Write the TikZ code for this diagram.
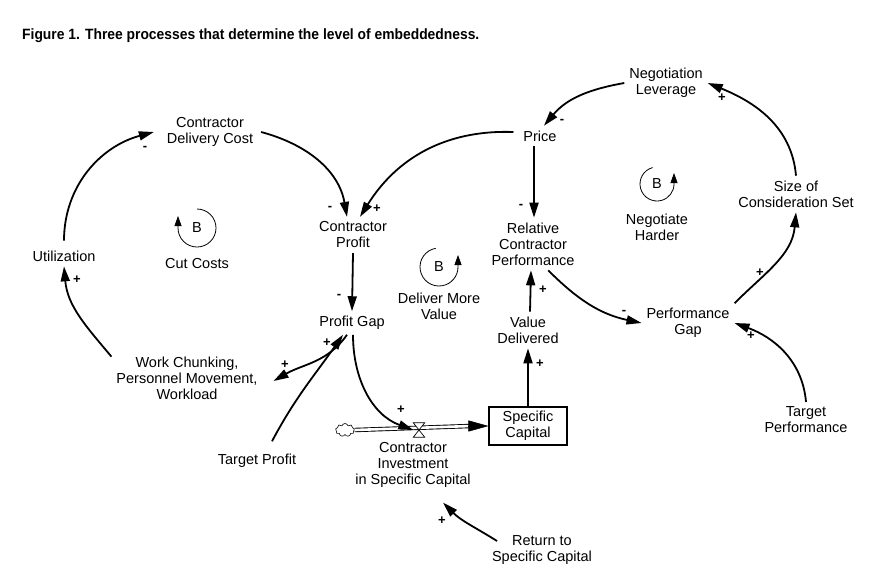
\documentclass[tikz,border=0pt]{standalone}
\usepackage{fontspec}
\setmainfont{Liberation Sans}
\newfontfamily\titlefont{Liberation Sans}[FakeStretch=0.93]
\usetikzlibrary{arrows.meta,positioning,shapes.symbols}
\newcommand\varfont{\fontsize{14.5}{16}\selectfont}

\begin{document}
\begin{tikzpicture}[x=1pt, y=1pt,
        var/.style={align=center, inner sep=2.5pt, outer sep=2.5pt, font=\varfont},
        pol/.style={inner sep=0pt, font=\fontsize{13}{13}\selectfont\bfseries},
        loopb/.style={circle, minimum size=38pt, inner sep=0pt, outer sep=0pt,
                      font=\varfont},
        stock/.style={rectangle, draw, line width=1.1pt, minimum width=78pt,
                      minimum height=38pt, align=center, inner sep=2pt, font=\varfont},
        valvebox/.style={inner sep=0pt, minimum width=11pt, minimum height=14pt},
        source/.style={cloud, cloud puffs=9, draw, line width=0.6pt,
                       minimum width=19pt, minimum height=13pt, inner sep=0pt},
        arr/.style={-{Triangle[length=15pt, width=9pt]}, line width=1.8pt},
        looparr/.style={-{Triangle[length=10pt, width=7pt]}, line width=0.8pt},
        pipe/.style={double, double distance=2.6pt, line width=0.9pt}]
        \useasboundingbox (0,0) rectangle (877,-579);
        \node[anchor=west, inner sep=0pt,
              font=\titlefont\bfseries\fontsize{14.9}{17}\selectfont] (title) at (22,-36)
            {Figure 1. Three processes that determine the level of embeddedness.};
        % variables
        \node[var] (nl)      at (666,-83)  {Negotiation\\Leverage};
        \node[var] (price)   at (540,-136) {Price};
        \node[var] (cdc)     at (210,-132) {Contractor\\Delivery Cost};
        \node[var] (cp)      at (353,-235) {Contractor\\Profit};
        \node[var] (pg)      at (352,-323) {Profit Gap};
        \node[var] (util)    at (64,-256)  {Utilization};
        \node[var] (wc)      at (187,-378) {Work Chunking,\\Personnel Movement,\\Workload};
        \node[var] (tp)      at (257,-461) {Target Profit};
        \node[var] (vd)      at (528,-330) {Value\\Delivered};
        \node[var] (rcp)     at (533,-244) {Relative\\Contractor\\Performance};
        \node[var] (perfgap) at (688,-323) {Performance\\Gap};
        \node[var] (tperf)   at (806,-420) {Target\\Performance};
        \node[var] (scs)     at (796,-194) {Size of\\Consideration Set};
        \node[var] (ret)     at (542,-550) {Return to\\Specific Capital};
        % stock and flow
        \node[stock]    (sc)    at (528,-426) {Specific\\Capital};
        \node[source]   (cloud) at (345,-430) {};
        \node[valvebox] (valve) at (419,-430) {};
        \node[var] (ci) at (413,-465) {Contractor\\Investment\\in Specific Capital};
        \draw[pipe] (cloud.east) -- ([xshift=-18pt]sc.west);
        \draw[-{Triangle[length=20pt, width=11pt]}, line width=0.5pt]
            ([xshift=-20pt]sc.west) -- (sc.west);
        \draw[fill=white, line width=0.7pt] (valve.north west) -- (valve.north east)
            -- (valve.south west) -- (valve.south east) -- cycle;
        % loop markers
        \node[loopb] (cutB) at (197,-228) {B};
        \node[var, below=6pt of cutB] (cut) {Cut Costs};
        \draw[looparr] (cutB.90) arc[start angle=90, end angle=-180, radius=19pt] -- ++(0,12);
        \node[loopb] (dmvB) at (439,-267) {B};
        \node[var, below=2pt of dmvB] (dmv) {Deliver More\\Value};
        \draw[looparr] (dmvB.100) arc[start angle=100, end angle=360, radius=19pt] -- ++(0,12);
        \node[loopb, minimum size=34pt] (nhB) at (657,-184) {B};
        \node[var, below=8pt of nhB] (nh) {Negotiate\\Harder};
        \draw[looparr] (nhB.105) arc[start angle=105, end angle=360, radius=17pt] -- ++(0,11);
        % links
        \draw[arr] ([yshift=5pt]util.north) to[out=90, in=195] ([xshift=-8pt]cdc.west);
        \draw[arr] ([xshift=3pt]cdc.east) to[out=-15, in=100] ([xshift=-6pt]cp.north);
        \draw[arr] ([shift={(-5pt,4pt)}]price.west) to[out=178, in=58] ([xshift=7pt]cp.north);
        \draw[arr] (cp.south) -- (pg.north);
        \draw[arr] ([shift={(15pt,8pt)}]tp.north) to[out=62, in=-125] ([xshift=-9pt]pg.south);
        \draw[arr] ([xshift=-5pt]pg.south) to[out=-125, in=30] ([shift={(11pt,-3pt)}]wc.east);
        \draw[arr] ([yshift=-5pt]wc.north west) to[out=130, in=-85] (util.south);
        \draw[arr] ([xshift=1pt]pg.south) to[out=-90, in=160] (valve.west);
        \draw[arr] (sc.north) -- (vd.south);
        \draw[arr] ([xshift=2pt]vd.north) -- ([xshift=-2pt]rcp.south);
        \draw[arr] ([xshift=-6pt]price.south) -- ([xshift=1pt]rcp.north);
        \draw[arr] (rcp.-60) to[out=-45, in=168] (perfgap.west);
        \draw[arr] (tperf.north) to[out=95, in=-20] (perfgap.east);
        \draw[arr] (perfgap.north east) to[out=45, in=-95] (scs.south);
        \draw[arr] (scs.north) to[out=95, in=-22] (nl.east);
        \draw[arr] (nl.west) to[out=190, in=50] ([xshift=4pt]price.north);
        \draw[arr] ([shift={(10pt,9pt)}]ret.west) to[out=148, in=-45] ([shift={(30pt,-10pt)}]ci.south);
        % polarities
        \node[pol] (s1)  at (145,-148) {-};
        \node[pol] (s2)  at (330,-208) {-};
        \node[pol] (s3)  at (377,-209) {+};
        \node[pol] (s4)  at (339,-296) {-};
        \node[pol] (s5)  at (327,-343) {+};
        \node[pol] (s6)  at (285,-365) {+};
        \node[pol] (s7)  at (77,-280)  {+};
        \node[pol] (s8)  at (401,-410) {+};
        \node[pol] (s9)  at (540,-364) {+};
        \node[pol] (s10) at (543,-290) {+};
        \node[pol] (s11) at (521,-206) {-};
        \node[pol] (s12) at (624,-312) {-};
        \node[pol] (s13) at (751,-336) {+};
        \node[pol] (s14) at (760,-273) {+};
        \node[pol] (s15) at (722,-98)  {+};
        \node[pol] (s16) at (562,-121) {-};
        \node[pol] (s17) at (442,-521) {+};
    \end{tikzpicture}
\end{document}
